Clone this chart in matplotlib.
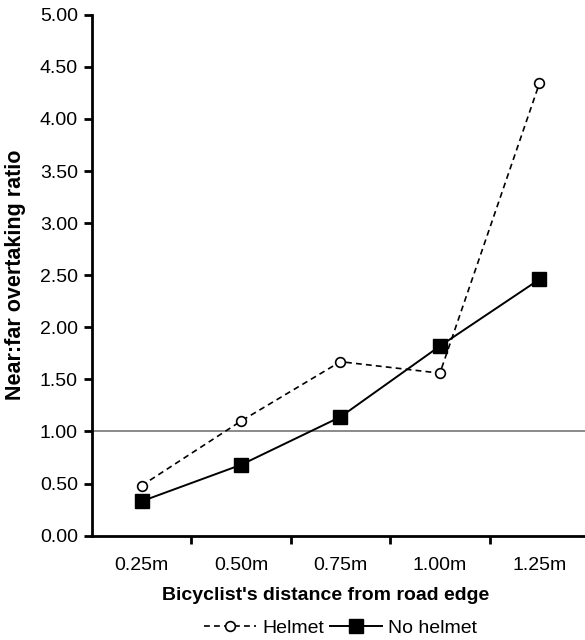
import numpy as np
import matplotlib.pyplot as plt
from matplotlib.ticker import FixedLocator

'''
Data:
'''
distances = ['0.25m', '0.50m', '0.75m', '1.00m', '1.25m']
helmet = [0.48, 1.10, 1.67, 1.56, 4.34]
no_helmet = [0.33, 0.68, 1.14, 1.82, 2.46]
y_ticks = [0.0, 0.5, 1.0, 1.5, 2.0, 2.5, 3.0, 3.5, 4.0, 4.5, 5.0]

'''
Plot:
'''
plt.rcParams['font.family'] = ['Liberation Sans', 'DejaVu Sans']

fig = plt.figure(figsize=(5.85, 6.4), dpi=100)
ax = fig.add_axes([0.157, 0.163, 0.85, 0.814])

x = np.arange(len(distances))

ax.axhline(1.0, color='#777777', lw=1.2, zorder=1)
ax.plot(x, helmet, color='black', lw=1.2, ls=(0, (3.5, 2.5)),
        marker='o', ms=7, mfc='white', mec='black', mew=1.2,
        label='Helmet', zorder=3)
ax.plot(x, no_helmet, color='black', lw=1.4, ls='-',
        marker='s', ms=9.5, mfc='black', mec='black',
        label='No helmet', zorder=3)

ax.set_xlim(-0.5, 4.5)
ax.set_ylim(0, 5)
ax.set_yticks(y_ticks)
ax.set_yticklabels(['%.2f' % t for t in y_ticks])
ax.set_xticks(x)
ax.set_xticklabels(distances)
ax.xaxis.set_minor_locator(FixedLocator([0.5, 1.5, 2.5, 3.5]))
ax.tick_params(axis='x', which='major', length=0, labelsize=14, pad=15)
ax.tick_params(axis='x', which='minor', length=6, width=2, direction='out')
ax.tick_params(axis='y', length=6, width=2, labelsize=14, pad=4)

for s in ['top', 'right']:
    ax.spines[s].set_visible(False)
for s in ['left', 'bottom']:
    ax.spines[s].set_linewidth(2)

ax.set_ylabel('Near:far overtaking ratio', fontsize=15.5, fontweight='bold')
ax.yaxis.set_label_coords(-0.133, 0.5)
ax.set_xlabel("Bicyclist's distance from road edge", fontsize=14, fontweight='bold')
ax.xaxis.set_label_coords(0.47, -0.098)

ax.legend(loc='center', bbox_to_anchor=(0.5, -0.178), ncol=2, frameon=False,
          fontsize=14, handlelength=2.7, columnspacing=0.3, handletextpad=0.3)

fig.savefig('out.png', dpi=100)
